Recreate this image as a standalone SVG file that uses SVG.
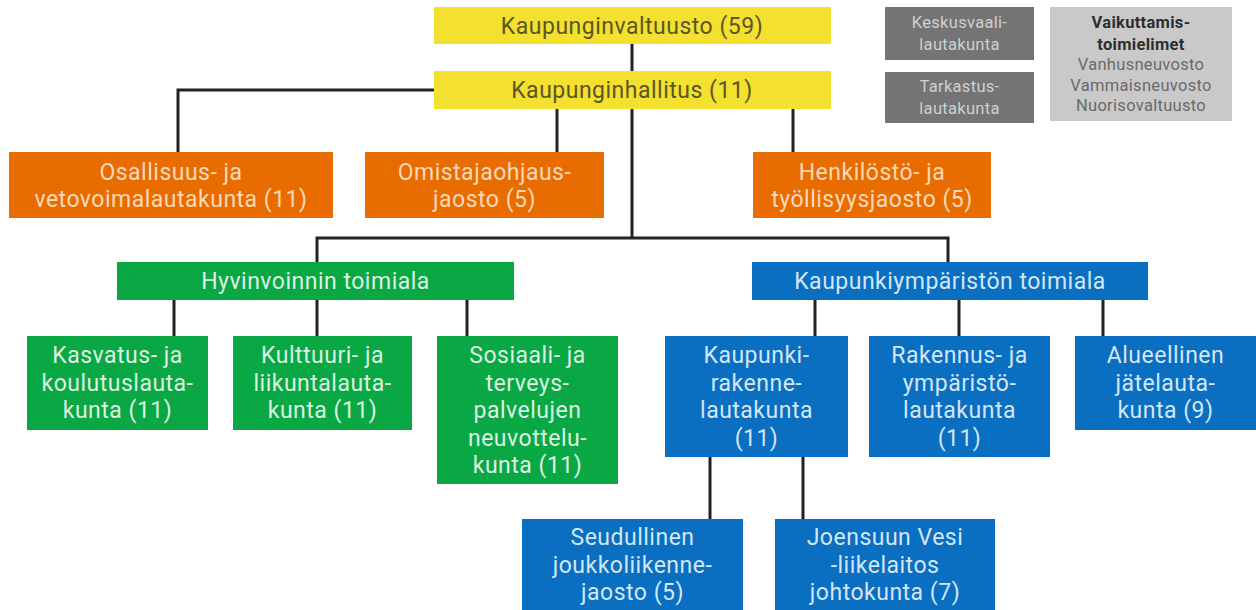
<svg xmlns="http://www.w3.org/2000/svg" width="1256" height="610" viewBox="0 0 1256 610">
<style>
.t{font-family:Roboto,"Liberation Sans",sans-serif;font-size:23px;letter-spacing:0.5px;text-anchor:middle}
.y{fill:#F3E02F}.yt{fill:#5C5624}
.o{fill:#E86C00}.ot{fill:#FBD9B8}
.g{fill:#09A844}.gt{fill:#DDF2E2}
.b{fill:#0A6FC1}.bt{fill:#D3E6F6}
.s{font-family:Roboto,"Liberation Sans",sans-serif;font-size:16.5px;letter-spacing:0.3px;text-anchor:middle}
.d{fill:#747474}.dt{fill:#CFCFCF}
.l{fill:#C9C9C9}.lt{fill:#6A6A6A}.lb{fill:#2E2E2E;font-weight:bold}
.c{stroke:#222;stroke-width:3;fill:none}
</style>
<rect width="1256" height="610" fill="#fff"/>
<g id="connectors">
<path class="c" d="M632 44V71"/>
<path class="c" d="M434 90H178V152"/>
<path class="c" d="M557 109V152"/>
<path class="c" d="M793 109V152"/>
<path class="c" d="M632 109V238"/>
<path class="c" d="M317 262V238H948V262"/>
<path class="c" d="M174 300V336M317 300V336M467 300V336"/>
<path class="c" d="M815 300V336M959 300V336M1103 300V336"/>
<path class="c" d="M710 457V519M803 457V519"/>
</g>
<g id="valtuusto"><rect class="y" x="434" y="7" width="397" height="37"/><text class="t yt" x="632" y="34">Kaupunginvaltuusto (59)</text></g>
<g id="hallitus"><rect class="y" x="434" y="71" width="397" height="38"/><text class="t yt" x="632" y="98">Kaupunginhallitus (11)</text></g>
<g id="keskusvaali"><rect class="d" x="885" y="7" width="149" height="53"/><text class="s dt" x="959.5" y="28">Keskusvaali-</text><text class="s dt" x="959.5" y="50">lautakunta</text></g>
<g id="tarkastus"><rect class="d" x="885" y="72" width="149" height="51"/><text class="s dt" x="959.5" y="92">Tarkastus-</text><text class="s dt" x="959.5" y="114">lautakunta</text></g>
<g id="vaikuttamis"><rect class="l" x="1050" y="7" width="182" height="114"/>
<text class="s lb" x="1141" y="28">Vaikuttamis-</text><text class="s lb" x="1141" y="50">toimielimet</text>
<text class="s lt" x="1141" y="70">Vanhusneuvosto</text><text class="s lt" x="1141" y="91">Vammaisneuvosto</text><text class="s lt" x="1141" y="111">Nuorisovaltuusto</text></g>
<g id="osallisuus"><rect class="o" x="9" y="152" width="324" height="66"/><text class="t ot" x="171" y="180">Osallisuus- ja</text><text class="t ot" x="171" y="207">vetovoimalautakunta (11)</text></g>
<g id="omistajaohjaus"><rect class="o" x="365" y="152" width="239" height="66"/><text class="t ot" x="484.5" y="180">Omistajaohjaus-</text><text class="t ot" x="484.5" y="207">jaosto (5)</text></g>
<g id="henkilosto"><rect class="o" x="753" y="152" width="238" height="66"/><text class="t ot" x="872" y="180">Henkilöstö- ja</text><text class="t ot" x="872" y="207">työllisyysjaosto (5)</text></g>
<g id="hyvinvointi"><rect class="g" x="117" y="262" width="397" height="38"/><text class="t gt" x="315.5" y="289">Hyvinvoinnin toimiala</text></g>
<g id="kaupunkiymparisto"><rect class="b" x="752" y="262" width="396" height="38"/><text class="t bt" x="950" y="289">Kaupunkiympäristön toimiala</text></g>
<g id="kasvatus"><rect class="g" x="27" y="336" width="181" height="94"/><text class="t gt" x="117.5" y="363">Kasvatus- ja</text><text class="t gt" x="117.5" y="390.5">koulutuslauta-</text><text class="t gt" x="117.5" y="418">kunta (11)</text></g>
<g id="kulttuuri"><rect class="g" x="233" y="336" width="179" height="94"/><text class="t gt" x="322.5" y="363">Kulttuuri- ja</text><text class="t gt" x="322.5" y="390.5">liikuntalauta-</text><text class="t gt" x="322.5" y="418">kunta (11)</text></g>
<g id="sosiaali"><rect class="g" x="437" y="336" width="181" height="148"/><text class="t gt" x="527.5" y="363">Sosiaali- ja</text><text class="t gt" x="527.5" y="390.5">terveys-</text><text class="t gt" x="527.5" y="418">palvelujen</text><text class="t gt" x="527.5" y="445.5">neuvottelu-</text><text class="t gt" x="527.5" y="473">kunta (11)</text></g>
<g id="kaupunkirakenne"><rect class="b" x="665" y="336" width="183" height="121"/><text class="t bt" x="756.5" y="363">Kaupunki-</text><text class="t bt" x="756.5" y="390.5">rakenne-</text><text class="t bt" x="756.5" y="418">lautakunta</text><text class="t bt" x="756.5" y="445.5">(11)</text></g>
<g id="rakennus"><rect class="b" x="869" y="336" width="181" height="121"/><text class="t bt" x="959.5" y="363">Rakennus- ja</text><text class="t bt" x="959.5" y="390.5">ympäristö-</text><text class="t bt" x="959.5" y="418">lautakunta</text><text class="t bt" x="959.5" y="445.5">(11)</text></g>
<g id="jate"><rect class="b" x="1075" y="336" width="181" height="94"/><text class="t bt" x="1165.5" y="363">Alueellinen</text><text class="t bt" x="1165.5" y="390.5">jätelauta-</text><text class="t bt" x="1165.5" y="418">kunta (9)</text></g>
<g id="joukkoliikenne"><rect class="b" x="522" y="519" width="221" height="91"/><text class="t bt" x="632.5" y="545">Seudullinen</text><text class="t bt" x="632.5" y="572.5">joukkoliikenne-</text><text class="t bt" x="632.5" y="600">jaosto (5)</text></g>
<g id="vesi"><rect class="b" x="775" y="519" width="220" height="91"/><text class="t bt" x="885" y="545">Joensuun Vesi</text><text class="t bt" x="885" y="572.5">-liikelaitos</text><text class="t bt" x="885" y="600">johtokunta (7)</text></g>
</svg>
